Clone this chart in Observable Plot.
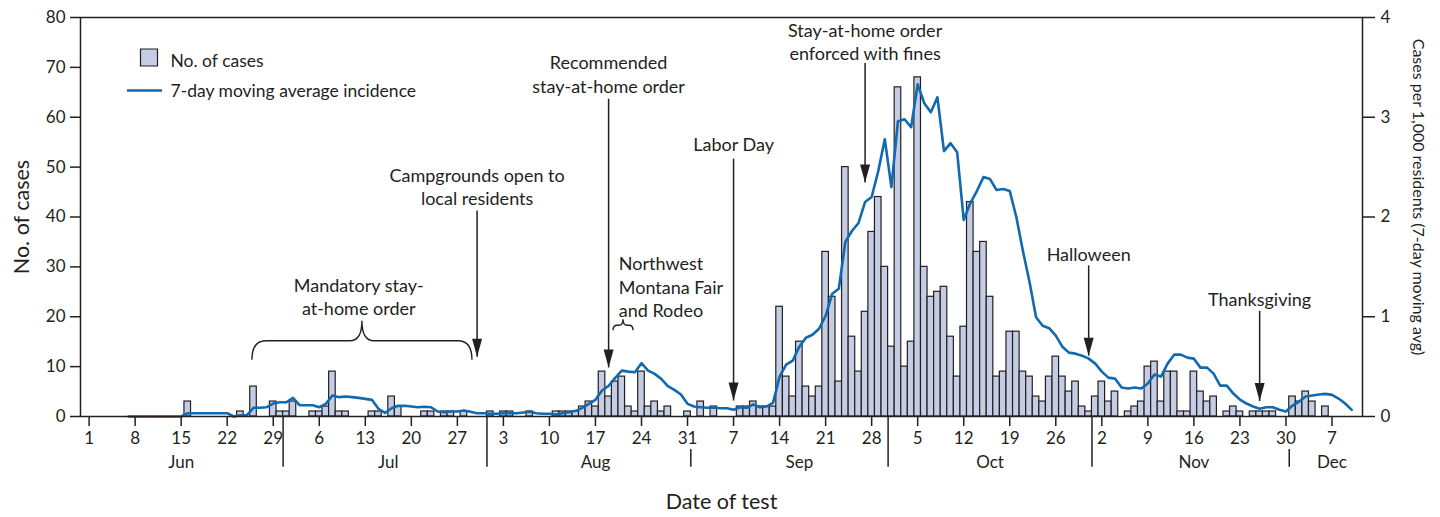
<!DOCTYPE html>
<html>
<head>
<meta charset="utf-8">
<script src="https://cdn.jsdelivr.net/npm/d3@7"></script>
<script src="https://cdn.jsdelivr.net/npm/@observablehq/plot@0.6"></script>
<style>
  html, body { margin: 0; padding: 0; background: #ffffff; }
  #chart svg { display: block; }
</style>
</head>
<body>
<div id="chart"></div>
<script>
// ---------------- DATA ----------------
// Daily number of cases, one value per day starting 2020-06-01
const casesStart = "2020-06-01";
const casesJun = [0,0,0,0,0,0,0,0,0,0,0,0,0,0,0,3,0,0,0,0,0,0,0,1,0,6,0,0,3,1];
const casesJul = [1,3,0,0,1,1,2,9,1,1,0,0,0,1,1,0,4,2,0,0,0,1,1,0,1,1,0,1,0,0,0];
const casesAug = [1,0,1,1,0,0,1,0,0,0,1,1,1,1,2,3,2,9,4,7,8,2,1,9,2,3,1,2,0,0,1];
const casesSep = [0,3,0,2,0,0,0,2,2,3,2,2,2,22,8,4,15,6,4,6,33,24,7,50,16,9,21,37,44,30];
const casesOct = [14,66,10,15,68,30,24,25,26,16,8,18,43,33,35,24,8,9,17,17,9,8,4,3,8,12,8,5,7,2,1];
const casesNov = [4,7,3,5,0,1,2,3,10,11,3,9,9,1,1,9,5,3,4,0,1,2,1,0,1,1,1,1,0,0];
const casesDec = [4,3,5,3,0,2];

// 7-day moving average incidence (cases per 1,000 residents), one value per day starting 2020-06-07
const incidenceStart = "2020-06-07";
const incJun = [0,0,0,0,0,0,0,0,0,0.033,0.033,0.033,0.033,0.033,0.033,0.033,0,0.013,0.013,0.087,0.087,0.093,0.13,0.143];
const incJul = [0.143,0.187,0.113,0.113,0.113,0.093,0.127,0.21,0.194,0.2,0.194,0.187,0.177,0.167,0.077,0.037,0.083,0.107,0.107,0.1,0.093,0.097,0.093,0.05,0.043,0.05,0.05,0.06,0.047,0.033,0.033];
const incAug = [0.027,0.027,0.033,0.033,0.033,0.04,0.047,0.033,0.027,0.027,0.02,0.033,0.043,0.057,0.087,0.127,0.167,0.26,0.307,0.387,0.46,0.45,0.444,0.534,0.46,0.427,0.377,0.304,0.267,0.22,0.127];
const incSep = [0.1,0.093,0.087,0.087,0.083,0.083,0.067,0.093,0.087,0.12,0.093,0.1,0.137,0.4,0.52,0.56,0.7,0.79,0.82,0.88,1.01,1.23,1.28,1.75,1.86,1.94,2.15,2.2,2.46,2.78];
const incOct = [2.3,2.96,2.98,2.9,3.33,3.14,3.05,3.2,2.66,2.74,2.65,1.97,2.14,2.26,2.4,2.38,2.27,2.28,2.26,2.0,1.66,1.35,0.995,0.91,0.885,0.81,0.7,0.64,0.63,0.61,0.58];
const incNov = [0.53,0.45,0.39,0.38,0.29,0.28,0.29,0.28,0.33,0.42,0.4,0.53,0.62,0.62,0.59,0.58,0.49,0.49,0.43,0.31,0.31,0.23,0.17,0.13,0.1,0.077,0.093,0.093,0.067,0.05];
const incDec = [0.11,0.15,0.2,0.21,0.22,0.227,0.217,0.18,0.13,0.067];

// Axis ticks
const leftTicks = [0,10,20,30,40,50,60,70,80];
const rightTicks = [0,1,2,3,4];
const monthNames = ["Jun","Jul","Aug","Sep","Oct","Nov","Dec"];
const monthLabelDates = ["2020-06-15","2020-07-16T12:00Z","2020-08-17","2020-09-17","2020-10-16","2020-11-16","2020-12-07"];
const monthStarts = ["2020-07-01","2020-08-01","2020-09-01","2020-10-01","2020-11-01","2020-12-01"];
const monthStartShort = [false,false,true,false,false,true];

// Annotations: events with arrows
const eventLabels = ["Campgrounds open to\nlocal residents","Recommended\nstay-at-home order","Labor Day","Stay-at-home order\nenforced with fines","Halloween","Thanksgiving"];
const eventDates = ["2020-07-30","2020-08-19","2020-09-07","2020-09-27","2020-10-31","2020-11-26"];
const eventLabelY = [46.2,68.8,54.7,75.3,32.7,23.6];
const eventArrowTop = [41.3,63.7,51.7,70.9,30.3,21.2];
const eventArrowTip = [12.0,9.8,3.2,46.9,12.2,3.1];

// Annotations: periods with braces
const periodLabels = ["Mandatory stay-\nat-home order","Northwest\nMontana Fair\nand Rodeo"];
const periodStarts = ["2020-06-25T20:00Z","2020-08-19T18:00Z"];
const periodEnds = ["2020-07-29T07:00Z","2020-08-22T19:00Z"];
const periodBraceY = [15.1,18.2];
const periodLabelDates = ["2020-07-12","2020-08-20T13:00Z"];
const periodLabelY = [24.1,26.1];
const periodLabelAnchor = ["middle","start"];

// ---------------- BUILD ----------------
const DAY = 864e5;
const leftMax = 80, rightMax = 4, factor = leftMax / rightMax;
const cases = [].concat(casesJun, casesJul, casesAug, casesSep, casesOct, casesNov, casesDec);
const incidence = [].concat(incJun, incJul, incAug, incSep, incOct, incNov, incDec);
const t0 = Date.parse(casesStart), t1 = Date.parse(incidenceStart);
const caseRows = cases.map((v, i) => ({date: new Date(t0 + i * DAY), cases: v})).filter(d => d.cases > 0);
const incRows = incidence.map((v, i) => ({date: new Date(t1 + i * DAY), inc: v}));
const events = eventLabels.map((l, i) => ({label: l, date: new Date(Date.parse(eventDates[i])), ly: eventLabelY[i], top: eventArrowTop[i], tip: eventArrowTip[i]}));
const periods = periodLabels.map((l, i) => ({label: l, start: new Date(Date.parse(periodStarts[i])), end: new Date(Date.parse(periodEnds[i])), by: periodBraceY[i], ldate: new Date(Date.parse(periodLabelDates[i])), ly: periodLabelY[i], anchor: periodLabelAnchor[i], big: i === 0}));
const months = monthNames.map((m, i) => ({name: m, date: new Date(Date.parse(monthLabelDates[i]))}));
const boundaries = monthStarts.map((s, i) => ({date: new Date(Date.parse(s) - DAY / 2), short: monthStartShort[i]}));
const xTicks = d3.utcMonday.range(new Date(Date.UTC(2020, 5, 1)), new Date(Date.UTC(2020, 11, 8)));

const ink = "#231f20";
const barFill = "#c5cde5";
const lineBlue = "#1169b0";

const arrowHead = {draw(ctx) { ctx.moveTo(0, 0); ctx.lineTo(-5, -18); ctx.lineTo(5, -18); ctx.closePath(); }};
const legendLine = {draw(ctx) { ctx.moveTo(-17.5, 0); ctx.lineTo(17.5, 0); }};

function braceMark(index, scales) {
  const g = d3.create("svg:g").attr("fill", "none").attr("stroke", ink).attr("stroke-width", 1.4);
  for (const p of periods) {
    const x1 = scales.x(p.start), x2 = scales.x(p.end), y = scales.y(p.by), xm = (x1 + x2) / 2;
    const h = p.big ? 19 : 5, hp = p.big ? 20 : 6, r = p.big ? 14 : 4, rp = p.big ? 12 : 4;
    const d = `M${x1},${y + h} Q${x1},${y} ${x1 + r},${y} L${xm - rp},${y} Q${xm},${y} ${xm},${y - hp} Q${xm},${y} ${xm + rp},${y} L${x2 - r},${y} Q${x2},${y} ${x2},${y + h}`;
    g.append("path").attr("d", d);
  }
  return g.node();
}

const chart = Plot.plot({
  width: 1440,
  height: 517,
  marginLeft: 80,
  marginRight: 78,
  marginTop: 17,
  marginBottom: 101,
  style: {fontFamily: "Lato, 'Open Sans', sans-serif", color: ink, background: "#ffffff"},
  x: {type: "utc", domain: [new Date(Date.UTC(2020, 4, 30, 16, 36)), new Date(Date.UTC(2020, 11, 11, 15, 22))]},
  y: {domain: [0, leftMax]},
  marks: [
    Plot.rectY(caseRows, {x1: d => new Date(+d.date - DAY / 2), x2: d => new Date(+d.date + DAY / 2), y: "cases", fill: barFill, stroke: ink, strokeWidth: 1.2}),
    Plot.line(incRows, {x: "date", y: d => d.inc * factor, stroke: lineBlue, strokeWidth: 2.6}),
    Plot.frame({stroke: ink, strokeWidth: 1.5}),
    Plot.axisY(leftTicks, {anchor: "left", tickSize: 10, tickPadding: 5, label: null, fontSize: 17, strokeWidth: 1.5}),
    Plot.axisY(rightTicks.map(v => v * factor), {anchor: "right", tickSize: 12, tickPadding: 6, tickFormat: v => String(v / factor), label: null, fontSize: 17, strokeWidth: 1.5}),
    Plot.axisX(xTicks, {tickSize: 10, tickPadding: 5, tickFormat: d3.utcFormat("%-d"), label: null, fontSize: 17, strokeWidth: 1.5}),
    Plot.ruleX(boundaries, {x: "date", y1: d => d.short ? -6.6 : 0, y2: -10.2, stroke: ink, strokeWidth: 1.5}),
    Plot.text(months, {x: "date", frameAnchor: "bottom", dy: 46, lineAnchor: "middle", text: "name", fontSize: 17, fill: ink}),
    Plot.text(["Date of test"], {frameAnchor: "bottom", dy: 86, lineAnchor: "middle", textAnchor: "middle", fontSize: 21.5, fill: ink}),
    Plot.text(["No. of cases"], {frameAnchor: "left", rotate: -90, dx: -58, textAnchor: "middle", lineAnchor: "middle", fontSize: 21.5, fill: ink}),
    Plot.text(["Cases per 1,000 residents (7-day moving avg)"], {frameAnchor: "right", rotate: 90, dx: 56, dy: -20, textAnchor: "middle", lineAnchor: "middle", fontSize: 16, fill: ink}),
    // legend
    Plot.dot([0], {frameAnchor: "top-left", dx: 68.5, dy: 40, symbol: "square", r: 9.6, fill: barFill, stroke: ink, strokeWidth: 1.2}),
    Plot.text(["No. of cases"], {frameAnchor: "top-left", dx: 90, dy: 44, textAnchor: "start", lineAnchor: "middle", fontSize: 17.5, fill: ink}),
    Plot.dot([0], {frameAnchor: "top-left", dx: 64, dy: 73, symbol: legendLine, r: 5, fill: "none", stroke: lineBlue, strokeWidth: 2.6}),
    Plot.text(["7-day moving average incidence"], {frameAnchor: "top-left", dx: 90, dy: 74, textAnchor: "start", lineAnchor: "middle", fontSize: 17.5, fill: ink}),
    // event annotations
    Plot.link(events, {x1: "date", x2: "date", y1: "top", y2: "tip", stroke: ink, strokeWidth: 1.5}),
    Plot.dot(events, {x: "date", y: "tip", symbol: arrowHead, r: 5, fill: ink, stroke: "none"}),
    Plot.text(events, {x: "date", y: "ly", text: "label", lineAnchor: "middle", lineHeight: 1.3, fontSize: 18, fill: ink}),
    // period annotations
    braceMark,
    Plot.text(periods.filter(p => p.anchor === "middle"), {x: "ldate", y: "ly", text: "label", textAnchor: "middle", lineAnchor: "middle", lineHeight: 1.3, fontSize: 18, fill: ink}),
    Plot.text(periods.filter(p => p.anchor === "start"), {x: "ldate", y: "ly", text: "label", textAnchor: "start", lineAnchor: "middle", lineHeight: 1.3, fontSize: 18, fill: ink})
  ]
});
document.getElementById("chart").appendChild(chart);
</script>
</body>
</html>
